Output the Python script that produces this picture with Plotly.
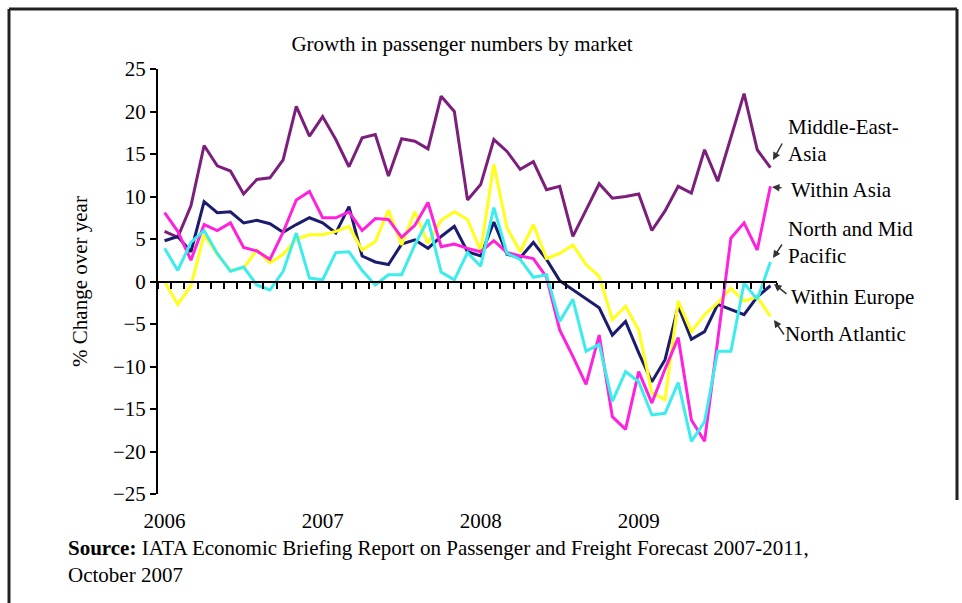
import plotly.graph_objects as go

# ---------------- data ----------------
years = [2006, 2007, 2008, 2009]
months = [f"{y}-{m:02d}" for y in years for m in range(1, 13)][:47]
year_ticks = ["2006-01", "2007-01", "2008-01", "2009-01"]
year_labels = ["2006", "2007", "2008", "2009"]
y_ticks = [25, 20, 15, 10, 5, 0, -5, -10, -15, -20, -25]

middle_east_asia = [5.9, 5.2, 8.9, 16.0, 13.6, 13.0, 10.3, 12.0, 12.2, 14.3,
                    20.6, 17.1, 19.4, 16.7, 13.5, 16.9, 17.3, 12.4, 16.8, 16.5,
                    15.6, 21.8, 20.0, 9.6, 11.4, 16.7, 15.3, 13.2, 14.1, 10.8,
                    11.2, 5.3, 8.4, 11.5, 9.8, 10.0, 10.3, 6.0, 8.3, 11.2,
                    10.4, 15.5, 11.8, 16.9, 22.1, 15.5, 13.4]
within_asia = [8.1, 5.9, 2.5, 6.7, 6.0, 6.9, 4.0, 3.6, 2.6, 5.8,
               9.6, 10.6, 7.5, 7.5, 8.2, 6.0, 7.4, 7.3, 5.2, 6.6,
               9.3, 4.1, 4.4, 3.9, 3.5, 4.8, 3.4, 3.0, 2.7, 0.5,
               -5.7, -8.8, -12.1, -6.3, -15.9, -17.4, -10.6, -14.3, -10.3, -6.6,
               -16.3, -18.8, -6.9, 5.1, 6.9, 3.7, 11.2]
within_europe = [4.8, 5.3, 3.5, 9.4, 8.1, 8.2, 6.9, 7.2, 6.8, 5.8,
                 6.7, 7.5, 6.9, 5.7, 8.8, 3.0, 2.3, 2.0, 4.4, 4.9,
                 3.9, 5.3, 6.5, 3.5, 3.0, 7.0, 3.2, 2.8, 4.6, 2.6,
                 0.1, -1.0, -2.1, -3.1, -6.3, -4.7, -8.4, -11.8, -9.2, -2.9,
                 -6.8, -5.9, -2.7, -3.3, -3.9, -1.8, -0.5]
north_atlantic = [0.0, -2.7, -0.5, 5.5, 3.2, 1.3, 1.6, 3.7, 2.2, 3.2,
                  5.0, 5.5, 5.5, 5.9, 6.5, 3.7, 4.7, 8.4, 4.3, 8.2,
                  4.5, 7.2, 8.2, 7.3, 3.6, 13.8, 6.3, 3.5, 6.7, 2.7,
                  3.3, 4.3, 2.0, 0.6, -4.5, -2.9, -5.7, -13.1, -13.9, -2.3,
                  -5.9, -3.9, -2.5, -0.8, -2.3, -1.8, -4.1]
north_mid_pacific = [3.9, 1.3, 4.6, 6.0, 3.3, 1.2, 1.7, -0.4, -1.0, 1.2,
                     5.7, 0.4, 0.2, 3.4, 3.5, 1.3, -0.4, 0.8, 0.8, 4.3,
                     7.3, 1.1, 0.2, 3.4, 1.8, 8.7, 3.3, 2.6, 0.5, 0.8,
                     -4.7, -2.1, -8.2, -7.4, -14.1, -10.6, -11.8, -15.7, -15.5, -11.9,
                     -18.8, -16.5, -8.2, -8.2, -0.2, -2.1, 2.3]

series = [
    ("Middle-East-Asia", middle_east_asia, "#7C1E7C"),
    ("Within Europe", within_europe, "#1C1C6E"),
    ("North Atlantic", north_atlantic, "#FFFF1A"),
    ("Within Asia", within_asia, "#FF22DD"),
    ("North and Mid Pacific", north_mid_pacific, "#3DECEC"),
]

FONT = "Liberation Serif, Times New Roman, serif"
FS = 21

# ---------------- layout geometry (pixels) ----------------
W, H = 962, 603
L, R, T, B = 158, 185, 69, 109
PW, PH = W - L - R, H - T - B


def px(x):
    return (x - L) / PW


def py(y):
    return (H - B - y) / PH


fig = go.Figure()
for name, vals, color in series:
    fig.add_trace(go.Scatter(x=months, y=vals, mode="lines", name=name,
                             line=dict(color=color, width=3), showlegend=False))

# empty helper trace so that the zero-line axis (x2) gets drawn
fig.add_trace(go.Scatter(x=[], y=[], xaxis="x2", yaxis="y", showlegend=False,
                         hoverinfo="skip"))

n = len(months)
fig.update_layout(
    width=W, height=H,
    margin=dict(l=L, r=R, t=T, b=B),
    paper_bgcolor="white", plot_bgcolor="white",
    font=dict(family=FONT, size=FS, color="black"),
    title=dict(text="Growth in passenger numbers by market", x=462 / W, xanchor="center",
               xref="container", y=1 - 44 / H, yanchor="middle", yref="container",
               font=dict(family=FONT, size=FS, color="black")),
    xaxis=dict(type="category", categoryorder="array", categoryarray=months,
               range=[-0.5, n - 0.5], showline=False, ticks="", showgrid=False,
               zeroline=False, tickvals=year_ticks, ticktext=year_labels,
               ticklabelstandoff=12, tickfont=dict(family=FONT, size=FS, color="black")),
    xaxis2=dict(overlaying="x", anchor="free", position=0.5, side="bottom",
                range=[-0.5, n - 0.5], showline=True, linecolor="black", linewidth=2,
                ticks="outside", ticklen=6, tickwidth=1.5, tickcolor="black",
                tickvals=[k - 0.5 for k in range(n + 1)], showticklabels=False,
                showgrid=False, zeroline=False),
    yaxis=dict(range=[-25, 25], tickvals=y_ticks, showgrid=False, zeroline=False,
               showline=True, linecolor="black", linewidth=2, ticks="outside",
               ticklen=6, tickwidth=1.5, tickcolor="black",
               tickfont=dict(family=FONT, size=FS, color="black"),
               title=dict(text="% Change over year", standoff=20,
                          font=dict(family=FONT, size=FS, color="black"))),
)

# series labels on the right
labels = [
    ("Middle-East-<br>Asia", 786, 140.5, 773, 160, 10, -18),
    ("Within Asia", 789, 190, 772, 187, 11, 1),
    ("North and Mid<br>Pacific", 786, 242.5, 773, 258, 10, -15),
    ("Within Europe", 789, 297, 774, 284, 14, 11),
    ("North Atlantic", 783, 334, 774, 320, 11, 16),
]
for text, tx, ty, hx, hy, ax, ay in labels:
    fig.add_annotation(text=text, x=px(tx), y=py(ty), xref="paper", yref="paper",
                       xanchor="left", yanchor="middle", align="left", showarrow=False,
                       font=dict(family=FONT, size=FS, color="black"))
    fig.add_annotation(text="", x=px(hx), y=py(hy), xref="paper", yref="paper",
                       showarrow=True, ax=ax, ay=ay, arrowhead=2, arrowsize=1,
                       arrowwidth=1.5, arrowcolor="#333333")

# source note
fig.add_annotation(text="<b>Source:</b> IATA Economic Briefing Report on Passenger and Freight Forecast 2007-2011,<br>October 2007",
                   x=px(66), y=py(561), xref="paper", yref="paper", xanchor="left",
                   yanchor="middle", align="left", showarrow=False,
                   font=dict(family=FONT, size=FS, color="black"))

# frame
frame = dict(type="line", xref="paper", yref="paper", line=dict(color="#222222", width=3))
fig.add_shape(x0=px(9), x1=px(9), y0=py(9), y1=py(603), **frame)
fig.add_shape(x0=px(9), x1=px(957), y0=py(9), y1=py(9), **frame)
fig.add_shape(x0=px(957), x1=px(957), y0=py(9), y1=py(500), **frame)

fig.write_html("out.html")
